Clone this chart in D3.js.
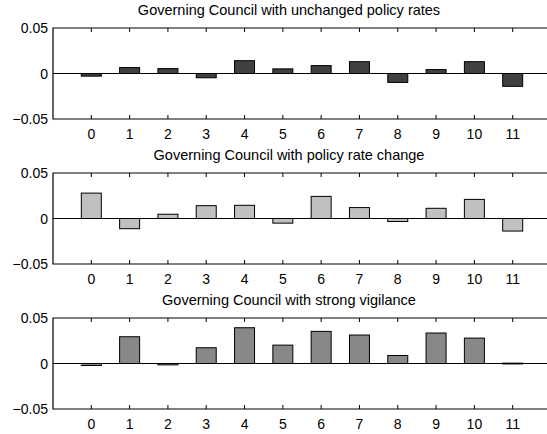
<!DOCTYPE html>
<html>
<head>
<meta charset="utf-8">
<script src="https://cdn.jsdelivr.net/npm/d3@7"></script>
<style>
  html, body { margin: 0; padding: 0; background: #fff; }
  svg { display: block; }
  text { font-family: "Liberation Sans", Arial, sans-serif; fill: #000; }
</style>
</head>
<body>
<svg id="chart" width="547" height="434"></svg>
<script>
// Horizons 0..11
const categories = [0, 1, 2, 3, 4, 5, 6, 7, 8, 9, 10, 11];

const titles = [
  "Governing Council with unchanged policy rates",
  "Governing Council with policy rate change",
  "Governing Council with strong vigilance"
];

const unchangedRates = [-0.0029, 0.0065, 0.0054, -0.0047, 0.0141, 0.0051, 0.0087, 0.0130, -0.0098, 0.0043, 0.0130, -0.0141];
const rateChange     = [0.0279, -0.0112, 0.0047, 0.0141, 0.0145, -0.0051, 0.0243, 0.0120, -0.0033, 0.0112, 0.0210, -0.0138];
const strongVigilance = [-0.0022, 0.0294, -0.0015, 0.0173, 0.0393, 0.0202, 0.0353, 0.0313, 0.0088, 0.0335, 0.0279, 0.0004];

const yTicks = [-0.05, 0, 0.05];
const yTickLabels = ["\u22120.05", "0", "0.05"];

const panels = [
  { title: titles[0], values: unchangedRates,  fill: "#404040" },
  { title: titles[1], values: rateChange,      fill: "#c0c0c0" },
  { title: titles[2], values: strongVigilance, fill: "#888888" }
];

const svg = d3.select("#chart");
const left = 53, right = 551;
const panelTop = [28, 173, 318];
const panelH = 91;

const x = d3.scaleLinear().domain([-1, 12]).range([left, right]);
const barW = 20;

panels.forEach((p, i) => {
  const top = panelTop[i], bottom = top + panelH;
  const y = d3.scaleLinear().domain([-0.05, 0.05]).range([bottom, top]);
  const g = svg.append("g");

  // title
  g.append("text")
    .attr("x", 289).attr("y", top - 13)
    .attr("text-anchor", "middle")
    .attr("font-size", 14.5)
    .text(p.title);

  // bars
  g.selectAll("rect.bar").data(p.values).join("rect")
    .attr("class", "bar")
    .attr("x", (d, k) => x(categories[k]) - barW / 2)
    .attr("width", barW)
    .attr("y", d => Math.min(y(d), y(0)))
    .attr("height", d => Math.max(Math.abs(y(d) - y(0)), 0.8))
    .attr("fill", p.fill)
    .attr("stroke", "#000")
    .attr("stroke-width", 1);

  // zero baseline
  g.append("line")
    .attr("x1", left).attr("x2", right)
    .attr("y1", y(0)).attr("y2", y(0))
    .attr("stroke", "#000").attr("stroke-width", 1);

  // box: left, top, bottom
  g.append("path")
    .attr("d", `M${right},${top}H${left}V${bottom}H${right}`)
    .attr("fill", "none").attr("stroke", "#000").attr("stroke-width", 1.2);

  // x ticks inside, top and bottom
  categories.forEach(c => {
    g.append("line").attr("x1", x(c)).attr("x2", x(c))
      .attr("y1", bottom).attr("y2", bottom - 4)
      .attr("stroke", "#000").attr("stroke-width", 1);
    g.append("line").attr("x1", x(c)).attr("x2", x(c))
      .attr("y1", top).attr("y2", top + 4)
      .attr("stroke", "#000").attr("stroke-width", 1);
  });

  // x tick labels
  g.selectAll("text.xl").data(categories).join("text")
    .attr("class", "xl")
    .attr("x", d => x(d)).attr("y", bottom + 20)
    .attr("text-anchor", "middle")
    .attr("font-size", 14)
    .text(d => d);

  // y tick labels
  g.selectAll("text.yl").data(yTicks).join("text")
    .attr("class", "yl")
    .attr("x", left - 5).attr("y", d => y(d) + 5)
    .attr("text-anchor", "end")
    .attr("font-size", 14)
    .text((d, k) => yTickLabels[k]);
});
</script>
</body>
</html>
